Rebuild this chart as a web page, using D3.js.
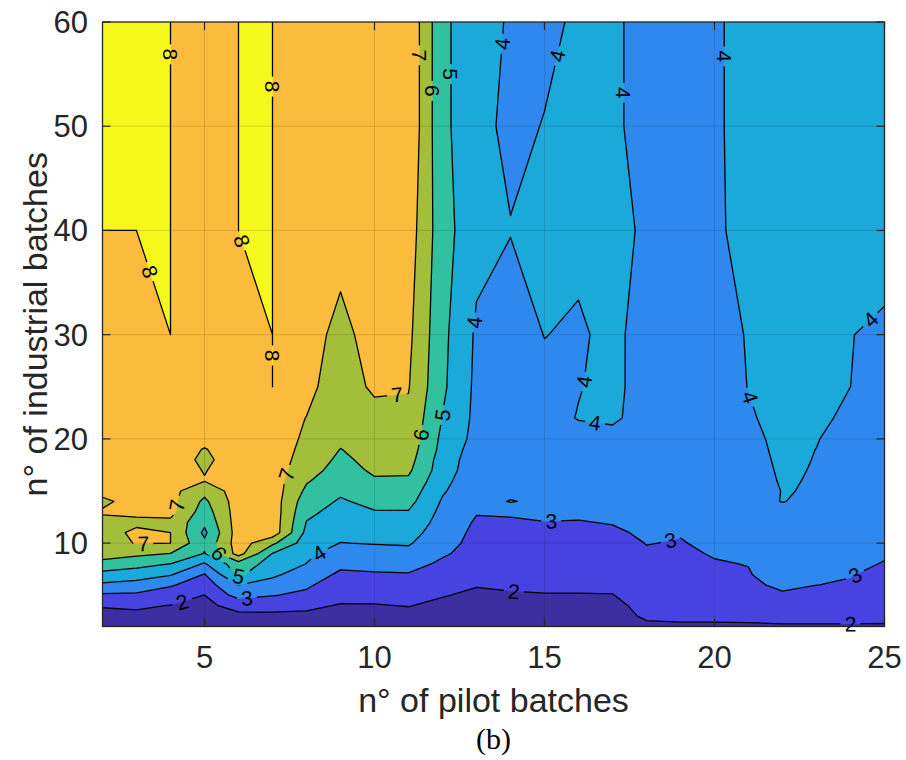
<!DOCTYPE html>
<html>
<head>
<meta charset="utf-8">
<script src="https://cdn.jsdelivr.net/npm/d3@7"></script>
<style>
  html, body { margin: 0; padding: 0; background: #ffffff; }
  svg { display: block; }
</style>
</head>
<body>
<svg id="chart" width="906" height="760"></svg>
<script>
// Grid of the response surface: pilot batches (columns) x industrial batches (rows)
const pilotBatches = [2, 3, 4, 5, 6, 7, 8, 9, 10, 11, 12, 13, 14, 15, 16, 17, 18, 19, 20, 21, 22, 23, 24, 25];
const industrialBatches = [2, 3, 4, 5, 6, 7, 8, 9, 10, 11, 12, 13, 14, 15, 16, 17, 18, 19, 20, 22, 25, 30, 40, 50, 60];

// One array per pilot-batch count, listed over industrialBatches
const surface = [
  /* 2 */ [1.55, 1.8, 2.05, 2.85, 3.85, 4.7, 5.65, 6.5, 6.6, 6.6, 6.75, 7.1, 6.8, 7.3, 7.5, 7.5, 7.5, 7.5, 7.5, 7.5, 7.5, 7.5, 8.0, 8.2, 8.2],
  /* 3 */ [1.6, 1.85, 2.1, 2.8, 3.7, 4.4, 5.4, 6.2, 7.05, 7.2, 6.8, 7.2, 7.4, 7.5, 7.5, 7.5, 7.5, 7.5, 7.5, 7.5, 7.5, 7.5, 8.0, 8.2, 8.2],
  /* 4 */ [1.6, 1.8, 1.98, 2.5, 3.1, 4.1, 4.98, 5.98, 7.0, 7.0, 6.8, 7.3, 7.3, 7.3, 7.5, 7.5, 7.5, 7.5, 7.5, 7.5, 7.5, 8.0, 8.0, 8.0, 8.0],
  /* 5 */ [1.6, 1.75, 1.9, 1.99, 2.5, 2.95, 3.9, 4.95, 5.2, 4.8, 5.2, 5.5, 5.8, 6.3, 7.05, 6.95, 6.8, 6.95, 7.3, 7.5, 7.5, 7.5, 7.5, 7.5, 7.5],
  /* 6 */ [1.65, 1.9, 2.15, 3.4, 4.02, 5.2, 5.6, 7.4, 7.5, 7.5, 7.5, 7.5, 7.5, 7.5, 7.5, 7.5, 7.5, 7.5, 7.5, 7.5, 7.5, 7.5, 8.0, 8.0, 8.0],
  /* 7 */ [1.6, 1.85, 2.25, 3.05, 3.6, 4.2, 4.6, 4.97, 6.2, 7.6, 7.6, 7.6, 7.55, 7.55, 7.5, 7.5, 7.5, 7.48, 7.48, 7.5, 8.0, 8.0, 8.0, 8.0, 8.0],
  /* 8 */ [1.55, 1.85, 2.15, 2.8, 3.15, 3.5, 3.98, 4.2, 4.5, 4.75, 4.97, 5.2, 5.45, 5.8, 6.1, 6.4, 6.6, 6.75, 6.85, 6.98, 7.3, 7.5, 7.5, 7.5, 7.5],
  /* 9 */ [1.5, 1.7, 1.95, 2.2, 2.5, 2.85, 3.2, 3.6, 3.98, 4.25, 4.5, 4.7, 4.9, 5.15, 5.4, 5.6, 5.8, 5.98, 6.2, 6.5, 6.4, 6.65, 7.5, 7.5, 7.5],
  /* 10 */ [1.5, 1.7, 1.95, 2.25, 2.55, 2.9, 3.3, 3.65, 4.05, 4.35, 4.65, 4.95, 5.25, 5.55, 5.9, 6.15, 6.3, 6.4, 6.5, 6.6, 7.2, 7.5, 7.6, 7.6, 7.6],
  /* 11 */ [1.5, 1.75, 2.03, 2.3, 2.6, 2.95, 3.3, 3.7, 4.1, 4.4, 4.7, 4.95, 5.3, 5.55, 5.85, 6.17, 6.37, 6.51, 6.67, 6.81, 7.05, 7.22, 7.5, 7.85, 7.85],
  /* 12 */ [1.45, 1.6, 1.8, 2.05, 2.3, 2.55, 2.85, 3.1, 3.3, 3.45, 3.6, 3.75, 3.9, 4.1, 4.3, 4.47, 4.52, 4.69, 4.76, 4.97, 5.18, 5.25, 5.4, 5.2, 5.2],
  /* 13 */ [1.4, 1.55, 1.7, 1.85, 2.05, 2.3, 2.55, 2.7, 2.75, 2.8, 2.9, 3.05, 3.2, 3.3, 3.3, 3.4, 3.48, 3.54, 3.7, 3.76, 3.79, 3.86, 4.3, 4.4, 4.4],
  /* 14 */ [1.4, 1.6, 1.75, 1.9, 2.15, 2.35, 2.5, 2.6, 2.7, 2.8, 2.9, 3.1, 4.1, 3.5, 3.5, 3.5, 3.5, 3.5, 3.5, 3.45, 3.4, 3.3, 4.05, 3.7, 3.9],
  /* 15 */ [1.4, 1.6, 1.75, 1.95, 2.2, 2.4, 2.5, 2.6, 2.7, 2.8, 2.98, 3.2, 3.6, 3.6, 3.6, 3.6, 3.6, 3.6, 3.6, 3.6, 3.65, 4.03, 4.3, 4.05, 3.7],
  /* 16 */ [1.4, 1.6, 1.75, 1.95, 2.2, 2.35, 2.45, 2.55, 2.65, 2.75, 2.95, 3.2, 3.5, 3.6, 3.6, 3.6, 3.6, 3.6, 3.6, 4.05, 3.95, 3.8, 4.4, 4.3, 4.2],
  /* 17 */ [1.4, 1.6, 1.75, 1.97, 2.2, 2.35, 2.5, 2.6, 2.7, 2.85, 3.05, 3.3, 3.5, 3.6, 3.6, 3.6, 3.6, 3.6, 3.6, 4.2, 4.3, 4.39, 4.3, 4.15, 4.15],
  /* 18 */ [1.8, 2.15, 2.3, 2.45, 2.6, 2.7, 2.8, 2.92, 3.02, 3.15, 3.3, 3.4, 3.5, 3.5, 3.5, 3.5, 3.5, 3.5, 3.5, 3.5, 3.49, 3.34, 3.85, 3.7, 3.7],
  /* 19 */ [1.85, 2.2, 2.35, 2.5, 2.6, 2.7, 2.8, 2.88, 2.96, 3.04, 3.15, 3.3, 3.45, 3.45, 3.45, 3.45, 3.45, 3.45, 3.45, 3.5, 3.5, 3.5, 3.6, 3.6, 3.6],
  /* 20 */ [1.85, 2.2, 2.4, 2.55, 2.7, 2.8, 2.95, 3.05, 3.15, 3.3, 3.3, 3.3, 3.45, 3.45, 3.45, 3.45, 3.45, 3.45, 3.45, 3.5, 3.6, 3.7, 3.9, 3.9, 3.9],
  /* 21 */ [1.85, 2.25, 2.45, 2.6, 2.85, 2.95, 3.02, 3.15, 3.25, 3.35, 3.35, 3.35, 3.45, 3.5, 3.5, 3.55, 3.6, 3.65, 3.7, 3.9, 4.02, 4.05, 4.2, 4.25, 4.25],
  /* 22 */ [1.9, 2.3, 2.6, 2.9, 3.15, 3.4, 3.5, 3.5, 3.5, 3.5, 3.5, 3.5, 4.05, 4.03, 4.1, 4.15, 4.2, 4.25, 4.3, 4.3, 4.3, 4.3, 4.4, 4.4, 4.4],
  /* 23 */ [1.9, 2.3, 2.55, 2.75, 3.01, 3.2, 3.35, 3.45, 3.45, 3.45, 3.45, 3.45, 3.6, 3.95, 3.92, 3.94, 3.965, 3.99, 4.05, 4.2, 4.3, 4.2, 4.4, 4.4, 4.4],
  /* 24 */ [1.9, 2.3, 2.5, 2.7, 2.9, 3.05, 3.2, 3.4, 3.4, 3.4, 3.4, 3.4, 3.5, 3.5, 3.5, 3.5, 3.5, 3.5, 3.55, 3.8, 4.0, 4.02, 4.4, 4.4, 4.4],
  /* 25 */ [1.9, 2.25, 2.4, 2.55, 2.65, 2.75, 2.95, 3.1, 3.3, 3.3, 3.3, 3.3, 3.5, 3.5, 3.5, 3.5, 3.5, 3.5, 3.5, 3.6, 3.7, 3.85, 4.4, 4.4, 4.4]
];

const contourLevels = [2, 3, 4, 5, 6, 7, 8];
// fill for: below 2, 2-3, 3-4, 4-5, 5-6, 6-7, 7-8, 8 and above
const bandColors = ["#3d2ea1", "#4743e0", "#2e88ee", "#1aa9d8", "#31c0a0", "#a3be3b", "#fbbb3d", "#f6f81b"];

const xTickValues = [5, 10, 15, 20, 25];
const yTickValues = [10, 20, 30, 40, 50, 60];

// inline contour labels: [level, pilot, industrial] near which each label sits
const labelAnchors = [
  [8, 3.94, 56.9], [8, 6.95, 53.8], [8, 6.1, 39.0], [8, 3.35, 36.0], [8, 7.0, 28.0],
  [7, 11.3, 56.8], [7, 10.66, 24.4], [7, 7.5, 16.5], [7, 4.25, 13.6], [7, 3.2, 10.3],
  [6, 11.72, 53.4], [6, 11.35, 20.4], [6, 5.4, 9.0],
  [5, 12.25, 55.0], [5, 11.98, 22.3], [5, 6.0, 6.8],
  [4, 13.8, 57.9], [4, 15.3, 56.8], [4, 17.32, 53.2], [4, 20.3, 56.7], [4, 12.9, 31.2],
  [4, 16.15, 25.5], [4, 16.5, 21.8], [4, 20.95, 23.9], [4, 24.6, 31.4], [4, 8.45, 8.5],
  [3, 6.25, 4.7], [3, 15.2, 12.2], [3, 18.7, 10.4], [3, 24.2, 6.6],
  [2, 4.4, 3.8], [2, 14.1, 5.4], [2, 24.0, 2.3]
];

const W = 906, H = 760;
const plot = { left: 102.5, right: 884.5, top: 22, bottom: 626.5 };
const sans = '"Liberation Sans", Arial, Helvetica, sans-serif';
const axisInk = "#262626";

const x = d3.scaleLinear().domain([2, 25]).range([plot.left, plot.right]);
const y = d3.scaleLinear().domain([2, 60]).range([plot.bottom, plot.top]);

const svg = d3.select("#chart");
const defs = svg.append("defs");
defs.append("clipPath").attr("id", "plotClip")
  .append("rect")
  .attr("x", plot.left).attr("y", plot.top)
  .attr("width", plot.right - plot.left).attr("height", plot.bottom - plot.top);

// --- contour geometry ---------------------------------------------------
const nx = pilotBatches.length, ny = industrialBatches.length;
const grid = new Array(nx * ny);
for (let j = 0; j < ny; j++) {
  for (let i = 0; i < nx; i++) grid[j * nx + i] = surface[i][j];
}
const bands = d3.contours().size([nx, ny]).thresholds(contourLevels)(grid);

// d3.contours places sample k at coordinate k + 0.5; map back through the axis arrays
function axisValue(arr, idx) {
  let k = Math.floor(idx);
  k = Math.max(0, Math.min(arr.length - 2, k));
  return arr[k] + (idx - k) * (arr[k + 1] - arr[k]);
}
function toPixel(p) {
  return [x(axisValue(pilotBatches, p[0] - 0.5)), y(axisValue(industrialBatches, p[1] - 0.5))];
}
function multiPolygonPath(mp) {
  let d = "";
  mp.coordinates.forEach(poly => poly.forEach(ring => {
    d += "M" + ring.map(p => toPixel(p).map(v => v.toFixed(2)).join(",")).join("L") + "Z";
  }));
  return d;
}

// --- filled bands -------------------------------------------------------
const fills = svg.append("g").attr("clip-path", "url(#plotClip)");
fills.append("rect")
  .attr("x", plot.left).attr("y", plot.top)
  .attr("width", plot.right - plot.left).attr("height", plot.bottom - plot.top)
  .attr("fill", bandColors[0]);
fills.selectAll("path.band")
  .data(bands)
  .join("path")
  .attr("class", "band")
  .attr("d", multiPolygonPath)
  .attr("fill", (d, i) => bandColors[i + 1])
  .attr("fill-rule", "evenodd")
  .attr("stroke", (d, i) => bandColors[i + 1])
  .attr("stroke-width", 0.4);

// --- grid lines -----------------------------------------------------------
const gridG = svg.append("g").attr("clip-path", "url(#plotClip)")
  .attr("stroke", axisInk).attr("stroke-opacity", 0.16).attr("stroke-width", 1);
gridG.selectAll("line.gx").data(xTickValues).join("line")
  .attr("x1", d => x(d)).attr("x2", d => x(d))
  .attr("y1", plot.top).attr("y2", plot.bottom);
gridG.selectAll("line.gy").data(yTickValues).join("line")
  .attr("y1", d => y(d)).attr("y2", d => y(d))
  .attr("x1", plot.left).attr("x2", plot.right);

// --- contour labels (positions snapped onto their line) -------------------
const labelSize = 21;
function linesForLevel(level) {
  const mp = bands[contourLevels.indexOf(level)];
  const lines = [];
  mp.coordinates.forEach(poly => poly.forEach(ring => lines.push(ring.map(toPixel))));
  return lines;
}
function pointAlong(line, k, t, dist) {
  // walk dist pixels along the polyline from segment k at fraction t (dist may be negative)
  let px = line[k][0] + t * (line[k + 1][0] - line[k][0]);
  let py = line[k][1] + t * (line[k + 1][1] - line[k][1]);
  let remaining = Math.abs(dist);
  if (dist >= 0) {
    let idx = k + 1;
    while (idx < line.length) {
      const dx = line[idx][0] - px, dy = line[idx][1] - py, L = Math.hypot(dx, dy);
      if (L >= remaining) return [px + dx * remaining / L, py + dy * remaining / L];
      remaining -= L; px = line[idx][0]; py = line[idx][1]; idx++;
    }
  } else {
    let idx = k;
    while (idx >= 0) {
      const dx = line[idx][0] - px, dy = line[idx][1] - py, L = Math.hypot(dx, dy);
      if (L >= remaining) return [px + dx * remaining / L, py + dy * remaining / L];
      remaining -= L; px = line[idx][0]; py = line[idx][1]; idx--;
    }
  }
  return [px, py];
}
const placed = [];
labelAnchors.forEach(([level, ax, ay]) => {
  const tx = x(ax), ty = y(ay);
  let best = null;
  linesForLevel(level).forEach(line => {
    for (let k = 0; k < line.length - 1; k++) {
      const a = line[k], b = line[k + 1];
      const vx = b[0] - a[0], vy = b[1] - a[1], L2 = vx * vx + vy * vy;
      if (L2 < 1e-9) continue;
      let t = ((tx - a[0]) * vx + (ty - a[1]) * vy) / L2;
      t = Math.max(0, Math.min(1, t));
      const qx = a[0] + t * vx, qy = a[1] + t * vy;
      if (qx < plot.left + 1 || qx > plot.right - 1 || qy < plot.top + 1 || qy > plot.bottom - 1) continue;
      const dd = (qx - tx) ** 2 + (qy - ty) ** 2;
      if (!best || dd < best.dd) best = { dd, qx, qy, line, k, t };
    }
  });
  if (!best) return;
  const p0 = pointAlong(best.line, best.k, best.t, -7);
  const p1 = pointAlong(best.line, best.k, best.t, 7);
  let ang = Math.atan2(p1[1] - p0[1], p1[0] - p0[0]) * 180 / Math.PI;
  if (!isFinite(ang) || (p0[0] === p1[0] && p0[1] === p1[1])) ang = 0;
  if (ang > 90) ang -= 180;
  if (ang <= -90) ang += 180;
  placed.push({ level, x: best.qx, y: best.qy, angle: ang });
});

const mask = defs.append("mask").attr("id", "labelGaps")
  .attr("maskUnits", "userSpaceOnUse")
  .attr("x", 0).attr("y", 0).attr("width", W).attr("height", H);
mask.append("rect").attr("x", 0).attr("y", 0).attr("width", W).attr("height", H).attr("fill", "white");
mask.selectAll("rect.gap").data(placed).join("rect")
  .attr("class", "gap")
  .attr("x", -10).attr("y", -9).attr("width", 20).attr("height", 18)
  .attr("fill", "black")
  .attr("transform", d => `translate(${d.x},${d.y}) rotate(${d.angle})`);

// --- contour lines ----------------------------------------------------------
const lineG = svg.append("g").attr("clip-path", "url(#plotClip)")
  .append("g").attr("mask", "url(#labelGaps)");
lineG.selectAll("path.isoline")
  .data(bands)
  .join("path")
  .attr("class", "isoline")
  .attr("d", multiPolygonPath)
  .attr("fill", "none")
  .attr("stroke", "#000000")
  .attr("stroke-width", 1.3)
  .attr("stroke-linejoin", "round");

svg.append("g").selectAll("text.clabel").data(placed).join("text")
  .attr("class", "clabel")
  .attr("transform", d => `translate(${d.x},${d.y}) rotate(${d.angle})`)
  .attr("text-anchor", "middle")
  .attr("dy", "0.36em")
  .attr("font-family", sans)
  .attr("font-size", labelSize)
  .attr("fill", "#000000")
  .text(d => d.level);

// --- axes ---------------------------------------------------------------------
const axes = svg.append("g").attr("stroke", axisInk).attr("fill", "none");
axes.append("rect")
  .attr("x", plot.left).attr("y", plot.top)
  .attr("width", plot.right - plot.left).attr("height", plot.bottom - plot.top)
  .attr("stroke-width", 1.3);
const tickLen = 8;
xTickValues.forEach(v => {
  axes.append("line").attr("x1", x(v)).attr("x2", x(v)).attr("y1", plot.bottom).attr("y2", plot.bottom - tickLen).attr("stroke-width", 1.2);
  axes.append("line").attr("x1", x(v)).attr("x2", x(v)).attr("y1", plot.top).attr("y2", plot.top + tickLen).attr("stroke-width", 1.2);
});
yTickValues.forEach(v => {
  axes.append("line").attr("y1", y(v)).attr("y2", y(v)).attr("x1", plot.left).attr("x2", plot.left + tickLen).attr("stroke-width", 1.2);
  axes.append("line").attr("y1", y(v)).attr("y2", y(v)).attr("x1", plot.right).attr("x2", plot.right - tickLen).attr("stroke-width", 1.2);
});

const tickFont = 31;
svg.append("g").selectAll("text").data(xTickValues).join("text")
  .attr("x", d => x(d)).attr("y", 668)
  .attr("text-anchor", "middle")
  .attr("font-family", sans).attr("font-size", tickFont).attr("fill", axisInk)
  .text(d => d);
svg.append("g").selectAll("text").data(yTickValues).join("text")
  .attr("x", 88).attr("y", d => y(d))
  .attr("dy", "0.35em")
  .attr("text-anchor", "end")
  .attr("font-family", sans).attr("font-size", tickFont).attr("fill", axisInk)
  .text(d => d);

svg.append("text")
  .attr("x", (plot.left + plot.right) / 2).attr("y", 712)
  .attr("text-anchor", "middle")
  .attr("font-family", sans).attr("font-size", 34).attr("fill", axisInk)
  .text("n° of pilot batches");
svg.append("text")
  .attr("transform", `translate(47,${(plot.top + plot.bottom) / 2}) rotate(-90)`)
  .attr("text-anchor", "middle")
  .attr("font-family", sans).attr("font-size", 34).attr("fill", axisInk)
  .text("n° of industrial batches");
svg.append("text")
  .attr("x", (plot.left + plot.right) / 2).attr("y", 749)
  .attr("text-anchor", "middle")
  .attr("font-family", '"Liberation Serif", "Times New Roman", serif')
  .attr("font-size", 30).attr("fill", "#000000")
  .text("(b)");
</script>
</body>
</html>
